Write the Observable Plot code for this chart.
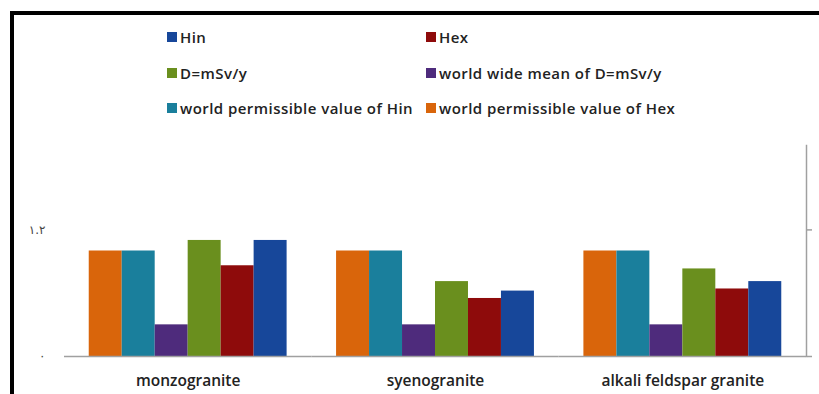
<!DOCTYPE html>
<html>
<head>
<meta charset="utf-8">
<script src="https://cdn.jsdelivr.net/npm/d3@7"></script>
<script src="https://cdn.jsdelivr.net/npm/@observablehq/plot@0.6"></script>
<style>
  html, body { margin: 0; padding: 0; background: #fff; }
  #wrap { position: relative; width: 819px; height: 394px; overflow: hidden; font-family: "Open Sans", sans-serif; }
  #border { position: absolute; left: 10px; top: 11px; right: 0; bottom: 0; border-top: 4px solid #000; border-left: 4px solid #000; }
  #chart { position: absolute; left: 0; top: 0; }
  #legend { position: absolute; left: 167px; top: 27px; display: grid; grid-template-columns: 259px 260px; row-gap: 15.5px; }
  .item { display: flex; align-items: center; height: 20px; font-size: 15px; letter-spacing: 0.45px; font-weight: 600; color: #222; white-space: nowrap; }
  .sw { width: 10px; height: 10px; margin-right: 3px; flex: none; }
</style>
</head>
<body>
<div id="wrap">
  <div id="border"></div>
  <div id="chart"></div>
  <div id="legend"></div>
</div>
<script>
// Rock types along the category axis
const categories = ["monzogranite", "syenogranite", "alkali feldspar granite"];

// Series, in the order the bars sit inside each group
const series = [
  "world permissible value of Hex",
  "world permissible value of Hin",
  "world wide mean of D=mSv/y",
  "D=mSv/y",
  "Hex",
  "Hin"
];
const colors = ["#d9650b", "#1a7f9c", "#4e2b7c", "#6a8f1e", "#8e0b0b", "#17479a"];

// Legend reading order (two columns, row by row)
const legendOrder = [
  "Hin", "Hex",
  "D=mSv/y", "world wide mean of D=mSv/y",
  "world permissible value of Hin", "world permissible value of Hex"
];

// Values per rock type
const permHex   = [1.00, 1.00, 1.00];
const permHin   = [1.00, 1.00, 1.00];
const worldMean = [0.30, 0.30, 0.30];
const doseD     = [1.10, 0.71, 0.83];
const hexValues = [0.86, 0.55, 0.64];
const hinValues = [1.10, 0.62, 0.71];

// Value axis ticks and their Arabic-Indic labels
const yTicks = [0, 1.2];
const yTickLabels = ["٠", "١.٢"];

const valuesBySeries = [permHex, permHin, worldMean, doseD, hexValues, hinValues];
const rows = [];
categories.forEach((c, i) => {
  series.forEach((s, j) => rows.push({category: c, series: s, value: valuesBySeries[j][i]}));
});

const axisGray = "#a0a0a0";

// Facets touch each other so the baseline runs unbroken; the gap between
// groups comes from the outer padding of the inner band scale.
const chart = Plot.plot({
  width: 819,
  height: 394,
  marginLeft: 64,
  marginRight: 13,
  marginTop: 145,
  marginBottom: 38,
  style: {background: "transparent", fontFamily: "'Open Sans', sans-serif"},
  fx: {domain: categories, padding: 0, round: false, label: null, axis: null},
  x: {domain: series, paddingInner: 0, paddingOuter: 0.75, round: false, axis: null},
  y: {domain: [0, 2], axis: null},
  color: {domain: series, range: colors},
  marks: [
    Plot.barY(rows, {fx: "category", x: "series", y: "value", fill: "series"}),
    Plot.ruleY([0], {stroke: axisGray, strokeWidth: 1.5}),
    Plot.frame({anchor: "right", stroke: axisGray, strokeWidth: 1.5, facetAnchor: "right"}),
    Plot.axisY({anchor: "right", ticks: yTicks, tickSize: 5, stroke: axisGray, strokeWidth: 1.5, tickFormat: () => "", label: null}),
    Plot.axisY({
      anchor: "left", ticks: yTicks, tickSize: 0, tickPadding: 19, label: null,
      tickFormat: d => yTickLabels[yTicks.indexOf(d)],
      fontSize: 12, fill: "#444", fontFamily: "DejaVu Sans"
    }),
    Plot.axisFx({anchor: "bottom", tickSize: 0, tickPadding: 18, fontSize: 15.5, fontWeight: 600, fill: "#222", label: null, style: {letterSpacing: "0.5px", wordSpacing: "3px"}})
  ]
});
document.getElementById("chart").appendChild(chart);

const legend = document.getElementById("legend");
for (const name of legendOrder) {
  const item = document.createElement("div");
  item.className = "item";
  const sw = document.createElement("span");
  sw.className = "sw";
  sw.style.background = colors[series.indexOf(name)];
  item.appendChild(sw);
  item.appendChild(document.createTextNode(name));
  legend.appendChild(item);
}
</script>
</body>
</html>
